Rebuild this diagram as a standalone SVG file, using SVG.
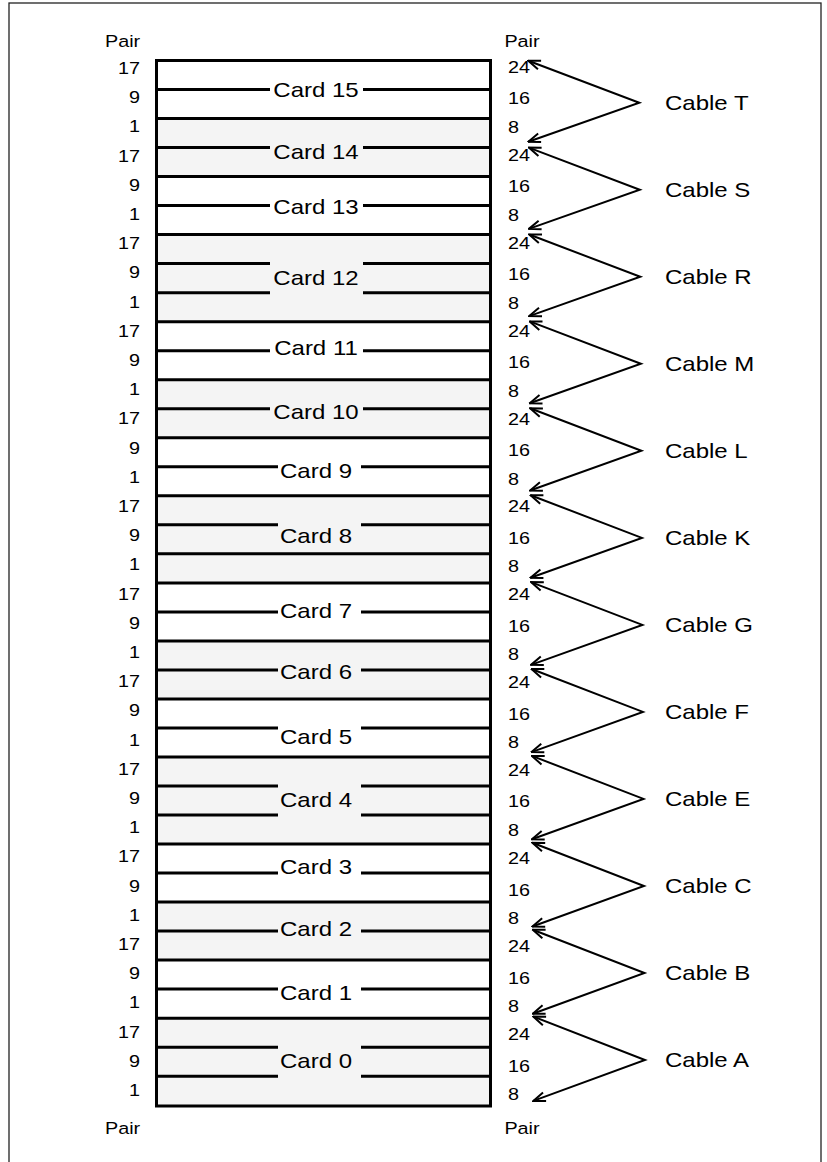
<svg xmlns="http://www.w3.org/2000/svg" width="827" height="1162" viewBox="0 0 827 1162">
<style>
text{font-family:"Liberation Sans",Arial,sans-serif;fill:#000}
.n{font-size:16.5px}
.lab{font-size:20px}
.band{fill:#f4f4f4;stroke:none}
.grid line,.grid path{stroke:#000;stroke-width:3;fill:none}
.rack{fill:none;stroke:#000;stroke-width:3}
.frame{fill:none;stroke:#222;stroke-width:1.3}
.conn path{fill:none;stroke:#000;stroke-width:2;marker-start:url(#ah);marker-end:url(#ah)}
</style>
<defs>
<marker id="ah" markerUnits="userSpaceOnUse" markerWidth="15" markerHeight="13" viewBox="0 0 15 13" refX="14" refY="6.5" orient="auto-start-reverse">
<path d="M2,2 L14,6.5 L2,11" fill="none" stroke="#000" stroke-width="2"/>
</marker>
</defs>
<rect class="frame" x="9" y="3" width="812" height="1180"/>

<g id="cards">
<g id="card15"><text class="lab" x="316" y="96.9" text-anchor="middle" transform="matrix(1.2 0 0 1 -63.2 0)">Card 15</text></g>
<g id="card14"><rect class="band" x="156.5" y="118.5" width="334" height="58.1"/><text class="lab" x="316" y="159.5" text-anchor="middle" transform="matrix(1.2 0 0 1 -63.2 0)">Card 14</text></g>
<g id="card13"><text class="lab" x="316" y="214" text-anchor="middle" transform="matrix(1.2 0 0 1 -63.2 0)">Card 13</text></g>
<g id="card12"><rect class="band" x="156.5" y="234.6" width="334" height="87.1"/><text class="lab" x="316" y="285" text-anchor="middle" transform="matrix(1.2 0 0 1 -63.2 0)">Card 12</text></g>
<g id="card11"><text class="lab" x="316" y="355" text-anchor="middle" transform="matrix(1.2 0 0 1 -63.2 0)">Card 11</text></g>
<g id="card10"><rect class="band" x="156.5" y="379.7" width="334" height="58.1"/><text class="lab" x="316" y="419" text-anchor="middle" transform="matrix(1.2 0 0 1 -63.2 0)">Card 10</text></g>
<g id="card9"><text class="lab" x="316" y="478" text-anchor="middle" transform="matrix(1.2 0 0 1 -63.2 0)">Card 9</text></g>
<g id="card8"><rect class="band" x="156.5" y="495.8" width="334" height="87.1"/><text class="lab" x="316" y="543" text-anchor="middle" transform="matrix(1.2 0 0 1 -63.2 0)">Card 8</text></g>
<g id="card7"><text class="lab" x="316" y="618" text-anchor="middle" transform="matrix(1.2 0 0 1 -63.2 0)">Card 7</text></g>
<g id="card6"><rect class="band" x="156.5" y="640.9" width="334" height="58"/><text class="lab" x="316" y="679" text-anchor="middle" transform="matrix(1.2 0 0 1 -63.2 0)">Card 6</text></g>
<g id="card5"><text class="lab" x="316" y="744" text-anchor="middle" transform="matrix(1.2 0 0 1 -63.2 0)">Card 5</text></g>
<g id="card4"><rect class="band" x="156.5" y="757" width="334" height="87"/><text class="lab" x="316" y="807" text-anchor="middle" transform="matrix(1.2 0 0 1 -63.2 0)">Card 4</text></g>
<g id="card3"><text class="lab" x="316" y="874" text-anchor="middle" transform="matrix(1.2 0 0 1 -63.2 0)">Card 3</text></g>
<g id="card2"><rect class="band" x="156.5" y="902.1" width="334" height="58"/><text class="lab" x="316" y="936" text-anchor="middle" transform="matrix(1.2 0 0 1 -63.2 0)">Card 2</text></g>
<g id="card1"><text class="lab" x="316" y="1000" text-anchor="middle" transform="matrix(1.2 0 0 1 -63.2 0)">Card 1</text></g>
<g id="card0"><rect class="band" x="156.5" y="1018.2" width="334" height="87.8"/><text class="lab" x="316" y="1068" text-anchor="middle" transform="matrix(1.2 0 0 1 -63.2 0)">Card 0</text></g>
</g>

<g id="rows" class="grid">
<path d="M156.5,89.5H270M363,89.5H490.5"/>
<line x1="156.5" y1="118.5" x2="490.5" y2="118.5"/>
<path d="M156.5,147.6H270M363,147.6H490.5"/>
<line x1="156.5" y1="176.6" x2="490.5" y2="176.6"/>
<path d="M156.5,205.6H270M363,205.6H490.5"/>
<line x1="156.5" y1="234.6" x2="490.5" y2="234.6"/>
<path d="M156.5,263.6H270M363,263.6H490.5"/>
<path d="M156.5,292.7H270M363,292.7H490.5"/>
<line x1="156.5" y1="321.7" x2="490.5" y2="321.7"/>
<path d="M156.5,350.7H270M363,350.7H490.5"/>
<line x1="156.5" y1="379.7" x2="490.5" y2="379.7"/>
<path d="M156.5,408.7H270M363,408.7H490.5"/>
<line x1="156.5" y1="437.8" x2="490.5" y2="437.8"/>
<path d="M156.5,466.8H278M361,466.8H490.5"/>
<line x1="156.5" y1="495.8" x2="490.5" y2="495.8"/>
<path d="M156.5,524.8H278M361,524.8H490.5"/>
<line x1="156.5" y1="553.8" x2="490.5" y2="553.8"/>
<line x1="156.5" y1="582.9" x2="490.5" y2="582.9"/>
<path d="M156.5,611.9H278M361,611.9H490.5"/>
<line x1="156.5" y1="640.9" x2="490.5" y2="640.9"/>
<path d="M156.5,669.9H278M361,669.9H490.5"/>
<line x1="156.5" y1="698.9" x2="490.5" y2="698.9"/>
<path d="M156.5,728H278M361,728H490.5"/>
<line x1="156.5" y1="757" x2="490.5" y2="757"/>
<path d="M156.5,786H278M361,786H490.5"/>
<path d="M156.5,815H278M361,815H490.5"/>
<line x1="156.5" y1="844" x2="490.5" y2="844"/>
<path d="M156.5,873.1H278M361,873.1H490.5"/>
<line x1="156.5" y1="902.1" x2="490.5" y2="902.1"/>
<path d="M156.5,931.1H278M361,931.1H490.5"/>
<line x1="156.5" y1="960.1" x2="490.5" y2="960.1"/>
<path d="M156.5,989.1H278M361,989.1H490.5"/>
<line x1="156.5" y1="1018.2" x2="490.5" y2="1018.2"/>
<path d="M156.5,1047.2H278M361,1047.2H490.5"/>
<path d="M156.5,1076.2H278M361,1076.2H490.5"/>
</g>
<rect id="rack" class="rack" x="156.5" y="60.5" width="334" height="1045.5"/>

<g id="left-pairs" class="n" text-anchor="end" transform="matrix(1.2 0 0 1 -28 0)">
<text x="140" y="47" text-anchor="start" transform="translate(-29.2 0)">Pair</text>
<text x="140" y="74">17</text><text x="140" y="103.2">9</text><text x="140" y="132.4">1</text>
<text x="140" y="161.6">17</text><text x="140" y="190.8">9</text><text x="140" y="220">1</text>
<text x="140" y="249.2">17</text><text x="140" y="278.4">9</text><text x="140" y="307.6">1</text>
<text x="140" y="336.8">17</text><text x="140" y="366">9</text><text x="140" y="395.2">1</text>
<text x="140" y="424.4">17</text><text x="140" y="453.6">9</text><text x="140" y="482.8">1</text>
<text x="140" y="512">17</text><text x="140" y="541.2">9</text><text x="140" y="570.4">1</text>
<text x="140" y="599.6">17</text><text x="140" y="628.8">9</text><text x="140" y="658">1</text>
<text x="140" y="687.2">17</text><text x="140" y="716.4">9</text><text x="140" y="745.6">1</text>
<text x="140" y="774.8">17</text><text x="140" y="804">9</text><text x="140" y="833.2">1</text>
<text x="140" y="862.4">17</text><text x="140" y="891.6">9</text><text x="140" y="920.8">1</text>
<text x="140" y="950">17</text><text x="140" y="979.2">9</text><text x="140" y="1008.4">1</text>
<text x="140" y="1037.6">17</text><text x="140" y="1066.8">9</text><text x="140" y="1096">1</text>
<text x="140" y="1134" text-anchor="start" transform="translate(-29.2 0)">Pair</text>
</g>

<g id="right-pairs" class="n" transform="matrix(1.2 0 0 1 -101.6 0)">
<text x="505" y="47">Pair</text>
<text x="508" y="73">24</text><text x="508" y="104">16</text><text x="508" y="133">8</text>
<text x="508" y="160.9">24</text><text x="508" y="192">16</text><text x="508" y="220.9">8</text>
<text x="508" y="248.8">24</text><text x="508" y="280">16</text><text x="508" y="308.8">8</text>
<text x="508" y="336.7">24</text><text x="508" y="368">16</text><text x="508" y="396.7">8</text>
<text x="508" y="424.6">24</text><text x="508" y="456">16</text><text x="508" y="484.6">8</text>
<text x="508" y="512.5">24</text><text x="508" y="544">16</text><text x="508" y="572.5">8</text>
<text x="508" y="600.4">24</text><text x="508" y="632">16</text><text x="508" y="660.4">8</text>
<text x="508" y="688.3">24</text><text x="508" y="720">16</text><text x="508" y="748.3">8</text>
<text x="508" y="776.2">24</text><text x="508" y="807">16</text><text x="508" y="836.2">8</text>
<text x="508" y="864.1">24</text><text x="508" y="896">16</text><text x="508" y="924.1">8</text>
<text x="508" y="952">24</text><text x="508" y="984">16</text><text x="508" y="1012">8</text>
<text x="508" y="1039.9">24</text><text x="508" y="1072">16</text><text x="508" y="1099.9">8</text>
<text x="505" y="1134">Pair</text>
</g>

<g id="cables" class="lab" transform="matrix(1.2 0 0 1 -133 0)">
<g id="cableT"><text x="665" y="109.7">Cable T</text></g>
<g id="cableS"><text x="665" y="196.7">Cable S</text></g>
<g id="cableR"><text x="665" y="283.8">Cable R</text></g>
<g id="cableM"><text x="665" y="370.8">Cable M</text></g>
<g id="cableL"><text x="665" y="457.8">Cable L</text></g>
<g id="cableK"><text x="665" y="544.9">Cable K</text></g>
<g id="cableG"><text x="665" y="631.9">Cable G</text></g>
<g id="cableF"><text x="665" y="718.9">Cable F</text></g>
<g id="cableE"><text x="665" y="805.9">Cable E</text></g>
<g id="cableC"><text x="665" y="893">Cable C</text></g>
<g id="cableB"><text x="665" y="980">Cable B</text></g>
<g id="cableA"><text x="665" y="1067">Cable A</text></g>
</g>

<g id="connectors" class="conn">
<path d="M528.3,60.7L639.3,102.7L528.3,141.7"/>
<path d="M528.8,147.6L639.8,189.7L528.8,228.9"/>
<path d="M529.2,234.5L640.3,276.8L529.2,316.1"/>
<path d="M529.7,321.4L640.9,363.8L529.7,403.3"/>
<path d="M530.1,408.3L641.4,450.8L530.1,490.5"/>
<path d="M530.6,495.2L641.9,537.9L530.6,577.7"/>
<path d="M531,582.1L642.4,624.9L531,664.9"/>
<path d="M531.5,669L642.9,711.9L531.5,752.1"/>
<path d="M531.9,755.9L643.5,798.9L531.9,839.3"/>
<path d="M532.4,842.8L644,886L532.4,926.5"/>
<path d="M532.8,929.7L644.5,973L532.8,1013.7"/>
<path d="M533.3,1016.6L645,1060L533.3,1100.9"/>
</g>
</svg>
